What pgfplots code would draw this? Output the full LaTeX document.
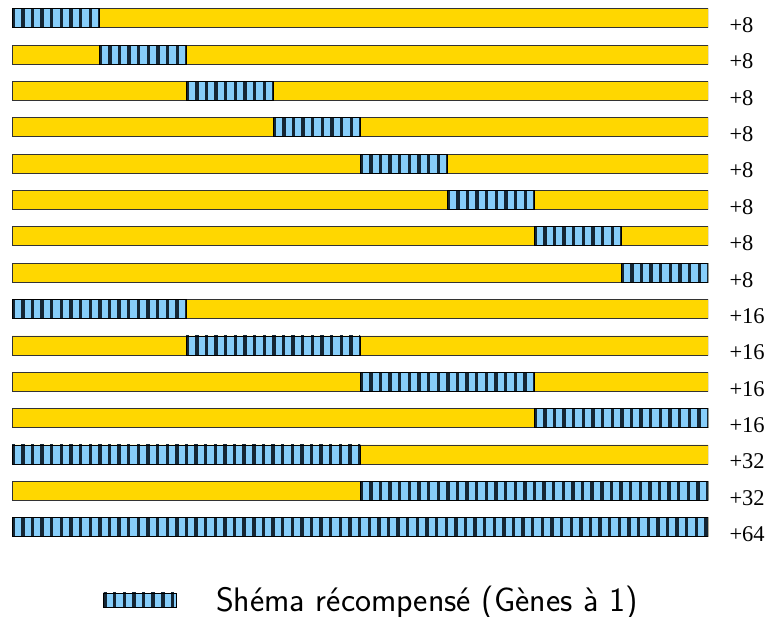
\documentclass[border=0pt]{standalone}
\usepackage{fontspec}
\usepackage{pgfplots}
\pgfplotsset{compat=1.18}
\newfontfamily\timesfont{Liberation Serif}
\newcommand{\lab}[1]{\mbox{\timesfont\fontsize{22.5}{26}\selectfont #1}}

\definecolor{gold}{RGB}{255,215,0}
\definecolor{skyb}{RGB}{135,206,250}
\definecolor{stripe}{RGB}{20,38,52}

\tikzset{bluebar/.style={fill=skyb, draw=black, line width=0.8pt,
  postaction={path picture={
    \foreach \i in {0,...,75}
      \fill[stripe] ([xshift=\i*9.62pt]path picture bounding box.south west)
        rectangle +(2.4pt,40pt);
  }}}}

% one rewarded segment: start, end, row
\newcommand{\seg}[4][forget plot]{%
  \pgfmathsetmacro\ylo{#4-0.2613}\pgfmathsetmacro\yhi{#4+0.2613}%
  \addplot[bluebar, #1] coordinates {(#2,\ylo) (#3,\ylo) (#3,\yhi) (#2,\yhi)} -- cycle;}

\begin{document}
\begin{tikzpicture}
\path[use as bounding box] (0,0) rectangle (771pt,617pt);
\begin{axis}[
  at={(12pt,617pt)}, anchor=north west,
  scale only axis, width=696pt, height=545.4pt,
  xmin=0, xmax=64, ymin=0.5, ymax=15.5,
  y dir=reverse,
  xtick=\empty,
  ytick={1,...,15},
  yticklabels={\lab{+8},\lab{+8},\lab{+8},\lab{+8},\lab{+8},\lab{+8},\lab{+8},\lab{+8},
    \lab{+16},\lab{+16},\lab{+16},\lab{+16},\lab{+32},\lab{+32},\lab{+64}},
  yticklabel pos=right,
  yticklabel style={anchor=west, xshift=18pt, yshift=-7pt},
  axis line style={draw=none},
  major tick length=0pt,
  legend style={at={(axis description cs:0.5165,-0.1)}, anchor=center,
    draw=none, fill=none, font=\sffamily\fontsize{34}{38}\selectfont,
    /tikz/every odd column/.append style={column sep=37pt}},
  legend image code/.code={\draw[bluebar] (0pt,-7pt) rectangle (73pt,7pt);},
]
\addplot[xbar, bar width=19pt, fill=gold, draw=black!80, line width=0.8pt, forget plot] coordinates {
  (64,1) (64,2) (64,3) (64,4) (64,5) (64,6) (64,7) (64,8)
  (64,9) (64,10) (64,11) (64,12) (64,13) (64,14) (64,15)
};
\seg[]{0}{8}{1}
\addlegendentry{Shéma récompensé (Gènes à 1)}
\seg{8}{16}{2}
\seg{16}{24}{3}
\seg{24}{32}{4}
\seg{32}{40}{5}
\seg{40}{48}{6}
\seg{48}{56}{7}
\seg{56}{64}{8}
\seg{0}{16}{9}
\seg{16}{32}{10}
\seg{32}{48}{11}
\seg{48}{64}{12}
\seg{0}{32}{13}
\seg{32}{64}{14}
\seg{0}{64}{15}
\end{axis}
\end{tikzpicture}
\end{document}
